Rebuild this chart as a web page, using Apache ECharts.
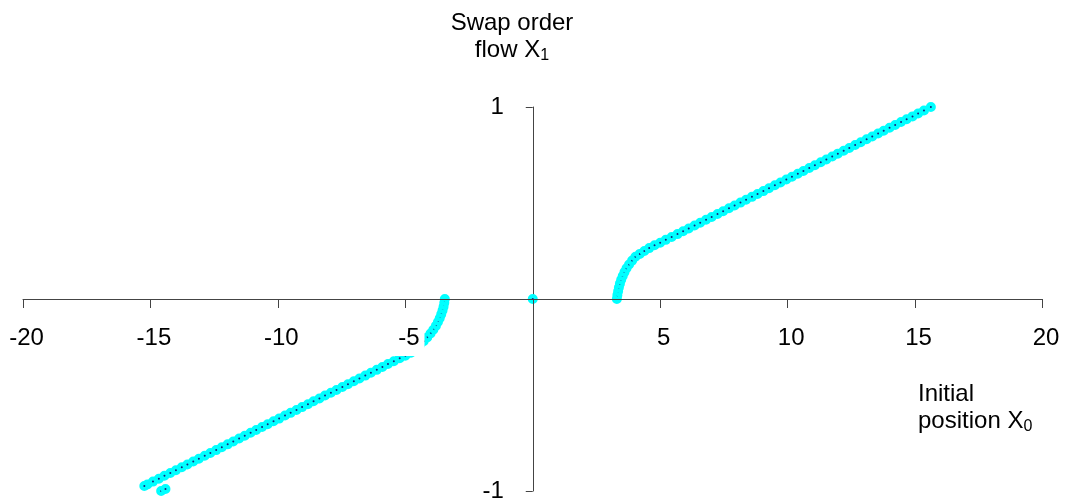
<!DOCTYPE html>
<html>
<head>
<meta charset="utf-8">
<script src="https://cdn.jsdelivr.net/npm/echarts@6/dist/echarts.min.js"></script>
<style>
html,body{margin:0;padding:0;background:#fff;}
#chart{width:1066px;height:501px;}
</style>
</head>
<body>
<div id="chart"></div>
<script>
// ---- data ----
const xTicks = [-20, -15, -10, -5, 0, 5, 10, 15, 20];
const yTicks = [-1, 0, 1];

const upperX = [3.30, 3.32, 3.35, 3.38, 3.42, 3.47, 3.53, 3.60, 3.68, 3.78, 3.90, 4.03, 4.20, 4.38, 4.57, 4.78,
  5.00, 5.22, 5.45, 5.68, 5.90, 6.12, 6.35, 6.57, 6.80, 7.02, 7.25, 7.47, 7.70, 7.92, 8.15, 8.37, 8.60, 8.82,
  9.05, 9.27, 9.50, 9.72, 9.95, 10.17, 10.40, 10.62, 10.85, 11.07, 11.30, 11.52, 11.75, 11.97, 12.20, 12.42,
  12.65, 12.87, 13.10, 13.32, 13.55, 13.77, 14.00, 14.22, 14.45, 14.67, 14.90, 15.12, 15.35, 15.62];
const upperY = [0.00, 0.02, 0.04, 0.06, 0.08, 0.10, 0.12, 0.14, 0.16, 0.18, 0.20, 0.22, 0.235, 0.25, 0.265, 0.28,
  0.293, 0.308, 0.323, 0.338, 0.353, 0.367, 0.383, 0.397, 0.413, 0.427, 0.443, 0.457, 0.473, 0.487, 0.502, 0.517, 0.532, 0.547,
  0.562, 0.577, 0.592, 0.607, 0.622, 0.637, 0.652, 0.667, 0.682, 0.697, 0.712, 0.727, 0.742, 0.757, 0.772, 0.786,
  0.802, 0.816, 0.832, 0.846, 0.862, 0.876, 0.892, 0.906, 0.922, 0.936, 0.951, 0.966, 0.982, 1.000];

const lowerX = [-3.45, -3.47, -3.50, -3.54, -3.59, -3.65, -3.72, -3.80, -3.90, -4.01, -4.14, -4.28, -4.43, -4.60, -4.78,
  -5.00, -5.22, -5.45, -5.68, -5.90, -6.12, -6.35, -6.57, -6.80, -7.02, -7.25, -7.47, -7.70, -7.92, -8.15, -8.37,
  -8.60, -8.82, -9.05, -9.27, -9.50, -9.72, -9.95, -10.17, -10.40, -10.62, -10.85, -11.07, -11.30, -11.52, -11.75,
  -11.97, -12.20, -12.42, -12.65, -12.87, -13.10, -13.32, -13.55, -13.77, -14.00, -14.22, -14.45, -14.67, -14.90,
  -15.12, -15.24];
const lowerY = [0.00, -0.02, -0.04, -0.06, -0.08, -0.10, -0.12, -0.14, -0.16, -0.18, -0.20, -0.22, -0.24, -0.26, -0.28,
  -0.295, -0.309, -0.324, -0.339, -0.354, -0.369, -0.384, -0.399, -0.414, -0.428, -0.444, -0.458, -0.474, -0.488, -0.503, -0.518,
  -0.533, -0.548, -0.563, -0.578, -0.593, -0.607, -0.623, -0.637, -0.652, -0.667, -0.682, -0.697, -0.712, -0.727, -0.742,
  -0.757, -0.772, -0.787, -0.802, -0.816, -0.832, -0.846, -0.862, -0.876, -0.892, -0.906, -0.921, -0.936, -0.951,
  -0.966, -0.974];

const strayX = [-14.78, -14.58, -14.41];
const strayY = [-1.005, -1.00, -0.99];

const originX = [0];
const originY = [0];

// ---- build ----
function pairs(xs, ys) { return xs.map((x, i) => [x, ys[i]]); }
const allPoints = pairs(lowerX, lowerY)
  .concat(pairs(strayX, strayY))
  .concat(pairs(originX, originY))
  .concat(pairs(upperX, upperY));

const FONT = 'Liberation Sans, Arial, sans-serif';
const axisColor = '#444444';
const xMin = xTicks[0], xMax = xTicks[xTicks.length - 1];
const yMin = yTicks[0], yMax = yTicks[yTicks.length - 1];

const chart = echarts.init(document.getElementById('chart'), null, {renderer: 'canvas'});
chart.setOption({
  animation: false,
  backgroundColor: '#ffffff',
  title: [
    {
      text: 'Swap order\nflow X{s|1}',
      left: 512,
      top: 10,
      padding: 0,
      textAlign: 'center',
      textStyle: {
        fontFamily: FONT, fontSize: 24, fontWeight: 'normal', color: '#000', lineHeight: 27,
        rich: { s: { fontFamily: FONT, fontSize: 16, color: '#000', lineHeight: 6, verticalAlign: 'bottom' } }
      }
    },
    {
      text: 'Initial\nposition X{s|0}',
      left: 918,
      top: 381,
      padding: 0,
      textAlign: 'left',
      textStyle: {
        fontFamily: FONT, fontSize: 24, fontWeight: 'normal', color: '#000', lineHeight: 27,
        rich: { s: { fontFamily: FONT, fontSize: 16, color: '#000', lineHeight: 6, verticalAlign: 'bottom' } }
      }
    }
  ],
  grid: { left: 23, right: 23.5, top: 107, bottom: 10, containLabel: false, outerBoundsMode: 'none' },
  xAxis: {
    type: 'value',
    min: xMin, max: xMax, interval: 5,
    position: 'bottom',
    z: 5,
    splitLine: { show: false },
    axisLine: { show: true, onZero: false, lineStyle: { color: axisColor, width: 1 } },
    axisTick: { show: true, inside: false, length: 9, lineStyle: { color: axisColor } },
    axisLabel: {
      show: true, margin: 21,
      fontFamily: FONT, fontSize: 24, color: '#000',
      formatter: v => (v === 0 ? '' : '{w|' + v + '}'),
      rich: {
        w: { fontFamily: FONT, fontSize: 24, color: '#000', backgroundColor: '#ffffff', padding: [6, 5, 6, 12] }
      }
    }
  },
  yAxis: {
    type: 'value',
    min: yMin, max: yMax, interval: 1,
    position: 'left',
    splitLine: { show: false },
    axisLine: { show: true, onZero: false, lineStyle: { color: axisColor, width: 1 } },
    axisTick: { show: true, inside: false, length: 7, lineStyle: { color: axisColor } },
    axisLabel: {
      show: true, margin: 29,
      fontFamily: FONT, fontSize: 24, color: '#000',
      formatter: v => (v === 0 ? '' : String(v))
    }
  },
  series: [{
    type: 'scatter',
    data: allPoints,
    symbol: 'circle',
    symbolSize: 6,
    itemStyle: { color: '#1a237e', borderColor: '#00ffff', borderWidth: 4, opacity: 1 },
    emphasis: { disabled: true }
  }]
});

// Move both axes (line, ticks and labels) onto the zero lines, using the library's own scales.
const pZero = chart.convertToPixel({gridIndex: 0}, [0, 0]);
const pMin = chart.convertToPixel({gridIndex: 0}, [xMin, yMin]);
chart.setOption({
  xAxis: { offset: -(pMin[1] - pZero[1]) },
  yAxis: { offset: -(pZero[0] - pMin[0]) }
});
</script>
</body>
</html>
